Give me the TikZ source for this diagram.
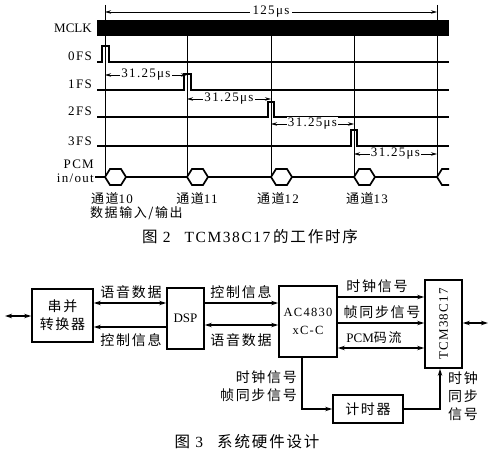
\documentclass[tikz,border=0pt]{standalone}
\usepackage{fontspec}
\setmainfont{Liberation Serif}[LetterSpace=10]
\newfontfamily\plainfont{Liberation Serif}
\newfontfamily\cjk{Noto Sans CJK SC}[LetterSpace=12]
\usetikzlibrary{arrows.meta}
\tikzset{
  guide/.style={line width=0.6pt},
  sig/.style={line width=1.7pt},
  dimline/.style={line width=0.8pt,{Stealth[length=6pt,width=3.5pt]}-{Stealth[length=6pt,width=3.5pt]}},
  lab/.style={inner sep=0pt, font=\fontsize{13}{13}\selectfont},
  dimlab/.style={fill=white, inner sep=1pt, font=\fontsize{13}{13}\selectfont},
  cn/.style={inner sep=0pt, font=\fontsize{14}{14}\selectfont\cjk},
  cnsm/.style={inner sep=0pt, font=\fontsize{13}{13}\selectfont\cjk},
  captxt/.style={inner sep=0pt, font=\fontsize{15.5}{16}\selectfont},
  blk/.style={draw, line width=1.8pt, inner sep=0pt, align=center},
  one/.style={line width=1.5pt, -{Stealth[length=7pt,width=4.5pt]}},
  two/.style={line width=1.5pt, {Stealth[length=7pt,width=4.5pt]}-{Stealth[length=7pt,width=4.5pt]}},
}
\begin{document}
\begin{tikzpicture}[x=1pt,y=-1pt]
\useasboundingbox (0,0) rectangle (494,457);
% ---------------- timing diagram ----------------
\draw[guide] (105,5) -- (105,177);
\draw[guide] (437,5) -- (437,177);
\foreach \gx in {187,271,354} \draw[guide] (\gx,36) -- (\gx,177);
\coordinate (t0) at (105,12);
\coordinate (t1) at (437,12);
\draw[dimline] (t0) -- (t1) node[midway, dimlab, inner sep=3pt] (t125) {125μs};
\fill (97,20) rectangle (449,36);
\node[lab, anchor=base east, font=\fontsize{13}{13}\plainfont] (lmclk) at (92,33) {MCLK};
\draw[sig] (97,62) -- (102,62) |- (109,46) |- (449,62);
\draw[sig] (97,90) -- (184,90) |- (191,74) |- (449,90);
\draw[sig] (97,117) -- (268,117) |- (274,102) |- (449,117);
\draw[sig] (97,146) -- (351,146) |- (357,130) |- (449,146);
\node[lab, anchor=base east] (l0) at (92,61) {0FS};
\node[lab, anchor=base east] (l1) at (92,89) {1FS};
\node[lab, anchor=base east] (l2) at (92,116) {2FS};
\node[lab, anchor=base east] (l3) at (92,145) {3FS};
\coordinate (d1a) at (105,75);  \coordinate (d1b) at (187,75);
\coordinate (d2a) at (187,99);  \coordinate (d2b) at (271,99);
\coordinate (d3a) at (271,124); \coordinate (d3b) at (354,124);
\coordinate (d4a) at (354,154); \coordinate (d4b) at (437,154);
\draw[dimline] (d1a) -- (d1b) node[midway, dimlab] (m1) {31.25μs};
\draw[dimline] (d2a) -- (d2b) node[midway, dimlab] (m2) {31.25μs};
\draw[dimline] (d3a) -- (d3b) node[midway, dimlab] (m3) {31.25μs};
\draw[dimline] (d4a) -- (d4b) node[midway, dimlab] (m4) {31.25μs};
\node[lab, anchor=base east] (lpcm) at (94,168) {PCM};
\node[lab, anchor=base east] (lio) at (94,182) {in/out};
\draw[sig] (95,177) -- (449,177);
\foreach \hx in {105,187,271,354}
  \draw[sig, fill=white] (\hx,177) -- ++(5,-8) -- ++(11,0) -- ++(5,8) -- ++(-5,8) -- ++(-11,0) -- cycle;
\draw[sig, fill=white] (449,169) -- (442,169) -- (437,177) -- (442,185) -- (449,185);
\node[cnsm, anchor=base] (c10) at (112,203) {通道{\fontsize{13}{13}\rmfamily 10}};
\node[cnsm, anchor=base] (c11) at (197,203) {通道{\fontsize{13}{13}\rmfamily 11}};
\node[cnsm, anchor=base] (c12) at (278,203) {通道{\fontsize{13}{13}\rmfamily 12}};
\node[cnsm, anchor=base] (c13) at (367,203) {通道{\fontsize{13}{13}\rmfamily 13}};
\node[cnsm, anchor=base west] (cio) at (90,217) {数据输入/输出};
\node[captxt] (cap2) at (250,237) {{\cjk 图} 2\hspace{14pt}TCM38C17{\cjk\,的工作时序}};
% ---------------- block diagram ----------------
\node[blk, minimum width=61pt, minimum height=53pt, font=\fontsize{14}{18}\selectfont\cjk] (sp) at (62.5,315.5) {串并\\转换器};
\node[blk, minimum width=37pt, minimum height=61pt, font=\fontsize{13}{13}\plainfont] (dsp) at (185.5,318.5) {DSP};
\node[blk, minimum width=58pt, minimum height=71pt, font=\fontsize{12.5}{18}\selectfont] (ac) at (308,321.5) {AC4830\\xC-C};
\node[blk, minimum width=37pt, minimum height=88pt] (tcm) at (443.5,324) {};
\node[lab, rotate=90] (tcmt) at (tcm.center) {TCM38C17};
\node[blk, minimum width=70pt, minimum height=28pt, font=\fontsize{14}{14}\selectfont\cjk] (tim) at (368,409) {计时器};
\coordinate (lo) at (5,316);
\coordinate (ro) at (488,323);
\draw[two] (lo) -- (lo -| sp.west);
\draw[two] (ro -| tcm.east) -- (ro);
\coordinate (ya) at (0,303);
\coordinate (yb) at (0,327);
\coordinate (yc) at (0,325);
\draw[two] (sp.east |- ya) -- (dsp.west |- ya);
\draw[one] (dsp.west |- yb) -- (sp.east |- yb);
\node[cn] (la1) at (131,292) {语音数据};
\node[cn] (la2) at (131,340) {控制信息};
\draw[one] (dsp.east |- ya) -- (ac.west |- ya);
\draw[two] (dsp.east |- yc) -- (ac.west |- yc);
\node[cn] (lb1) at (241,292) {控制信息};
\node[cn] (lb2) at (241,340) {语音数据};
\coordinate (y1) at (0,297);
\coordinate (y2) at (0,323);
\coordinate (y3) at (0,348);
\draw[one] (ac.east |- y1) -- (tcm.west |- y1);
\draw[one] (ac.east |- y2) -- (tcm.west |- y2);
\draw[two] (ac.east |- y3) -- (tcm.west |- y3);
\node[cn] (lc1) at (377,286) {时钟信号};
\node[cn] (lc2) at (382,312) {帧同步信号};
\node[cn] (lc3) at (374,338) {\fontsize{13}{13}\plainfont PCM\cjk 码流};
\coordinate (ax) at (302,0);
\coordinate (tx) at (440,0);
\draw[one] (ax |- ac.south) |- (tim.west);
\draw[one] (tim.east) -| (tx |- tcm.south);
\node[cn, anchor=east] (ld1) at (297,377) {时钟信号};
\node[cn, anchor=east] (ld2) at (297,395) {帧同步信号};
\node[cn] (le1) at (463,378) {时钟};
\node[cn] (le2) at (463,396) {同步};
\node[cn] (le3) at (463,414) {信号};
\node[captxt] (cap3) at (247,442) {{\cjk 图} 3\hspace{14pt}{\cjk 系统硬件设计}};
\end{tikzpicture}
\end{document}
